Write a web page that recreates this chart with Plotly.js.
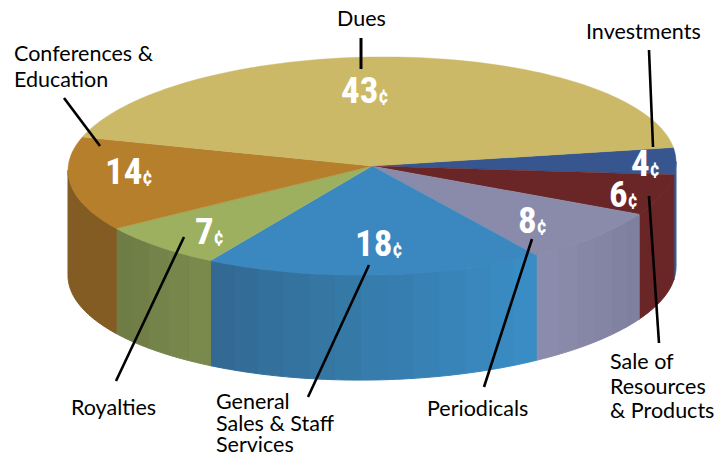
<!DOCTYPE html>
<html><head><meta charset="utf-8">
<script src="https://cdn.plot.ly/plotly-3.0.1.min.js"></script>
<style>html,body{margin:0;padding:0;background:#fff}</style></head>
<body><div id="chart" style="width:727px;height:457px"></div>
<script>
// Data, clockwise from the Investments slice
const categories = ["Investments","Sale of Resources & Products","Periodicals","General Sales & Staff Services","Royalties","Conferences & Education","Dues"];
const cents = [4,6,8,18,7,14,43];
const topColors = ["#375690","#6a2526","#8a8bab","#3a88bf","#9cb060","#b67f2b","#cbb968"];
const wallStart = ["#3a5a90","#6a2526","#7f809f","#3a8dc4","#7a894c","#825c22","#cbb968"];
const wallEnd   = ["#3a5a90","#6a2526","#8b8cad","#326a93","#6e7c45","#825c22","#cbb968"];
const valueX = [645,623,532,379,209,129,365];
const valueY = [163,194,220,243,231,171,90];
const labelLines = ["Conferences &","Education","Dues","Investments","Royalties","General","Sales & Staff","Services","Periodicals","Sale of","Resources","& Products"];
const labelX = [14,14,337,586,71,216,216,216,427,610,610,610];
const labelY = [53,79,18,31,407,401,423,444,408,361,386,410];
const leaderX = [[361,361],[649,653],[64,100],[116,184],[308,369],[484,532],[649,659]];
const leaderY = [[38,69],[50,147],[98,146],[381,237],[397,265],[387,239],[196,343]];

// Projection of the tilted disc
const cx=372, cy=166, rx=304, ry=109, shear=4.35, depth=105, startDeg=-7.5;
const px=d=>cx+rx*Math.cos(d*Math.PI/180);
const py=d=>cy+ry*Math.sin(d*Math.PI/180)-shear*Math.cos(d*Math.PI/180);
const hex=c=>[1,3,5].map(i=>parseInt(c.substr(i,2),16));
const mix=(a,b,t)=>{const A=hex(a),B=hex(b);return "rgb("+A.map((v,i)=>Math.round(v+(B[i]-v)*t)).join(",")+")";};
const poly=(x,y,color,w)=>({type:"scatter",mode:"lines",x,y,fill:"toself",fillcolor:color,
  line:{color,width:w===undefined?1:w,simplify:false},hoverinfo:"skip",showlegend:false});

const total=cents.reduce((a,b)=>a+b,0);
let angle=startDeg; const bounds=cents.map(v=>{const s=angle;angle+=v/total*360;return [s,angle];});
const traces=[];
// Side walls: only the part of each slice that faces the viewer (0..180 deg)
bounds.forEach((b,i)=>{
  const a0=Math.max(b[0],0), a1=Math.min(b[1],180);
  if(a1<=a0) return;
  const n=wallStart[i]===wallEnd[i]?1:Math.max(2,Math.round((a1-a0)/5));
  for(let k=0;k<n;k++){
    const s=a0+(a1-a0)*k/n, e=a0+(a1-a0)*(k+1)/n, xs=[], ys=[], m=n===1?40:6;
    for(let j=0;j<=m;j++){const d=s+(e-s)*j/m; xs.push(px(d)); ys.push(py(d));}
    for(let j=m;j>=0;j--){const d=s+(e-s)*j/m; xs.push(px(d)); ys.push(py(d)+depth);}
    xs.push(xs[0]); ys.push(ys[0]);
    traces.push(poly(xs,ys,mix(wallStart[i],wallEnd[i],k/Math.max(1,n-1))));
  }
});
// Top face
bounds.forEach((b,i)=>{
  const xs=[cx], ys=[cy], n=Math.ceil((b[1]-b[0])/1.5);
  for(let j=0;j<=n;j++){const d=b[0]+(b[1]-b[0])*j/n; xs.push(px(d)); ys.push(py(d));}
  xs.push(cx); ys.push(cy);
  traces.push(poly(xs,ys,topColors[i],0.4));
});
// Leader lines
leaderX.forEach((x,i)=>traces.push({type:"scatter",mode:"lines",x,y:leaderY[i],
  line:{color:"#000",width:i===0?3:2.6},hoverinfo:"skip",showlegend:false}));

const annotations=[];
labelLines.forEach((t,i)=>annotations.push({x:labelX[i],y:labelY[i],xref:"x",yref:"y",text:t,showarrow:false,
  xanchor:"left",yanchor:"middle",borderpad:0,xshift:-1,font:{family:"Lato, 'Open Sans', sans-serif",size:21.5,color:"#000"}}));
cents.forEach((v,i)=>annotations.push({x:valueX[i],y:valueY[i],xref:"x",yref:"y",showarrow:false,
  text:"<b>"+v+"<span style=\"font-size:20px\">¢</span></b>",xanchor:"center",yanchor:"middle",
  font:{family:"'Liberation Sans Narrow','Roboto Condensed','Liberation Sans',sans-serif",size:37,color:"#fff"}}));

const axis=r=>({range:r,visible:false,showgrid:false,zeroline:false,fixedrange:true});
Plotly.newPlot("chart",traces,{width:727,height:457,margin:{l:0,r:0,t:0,b:0},
  paper_bgcolor:"#fff",plot_bgcolor:"#fff",showlegend:false,hovermode:false,
  xaxis:axis([0,727]),yaxis:axis([457,0]),annotations},{displayModeBar:false,staticPlot:true});
</script></body></html>
